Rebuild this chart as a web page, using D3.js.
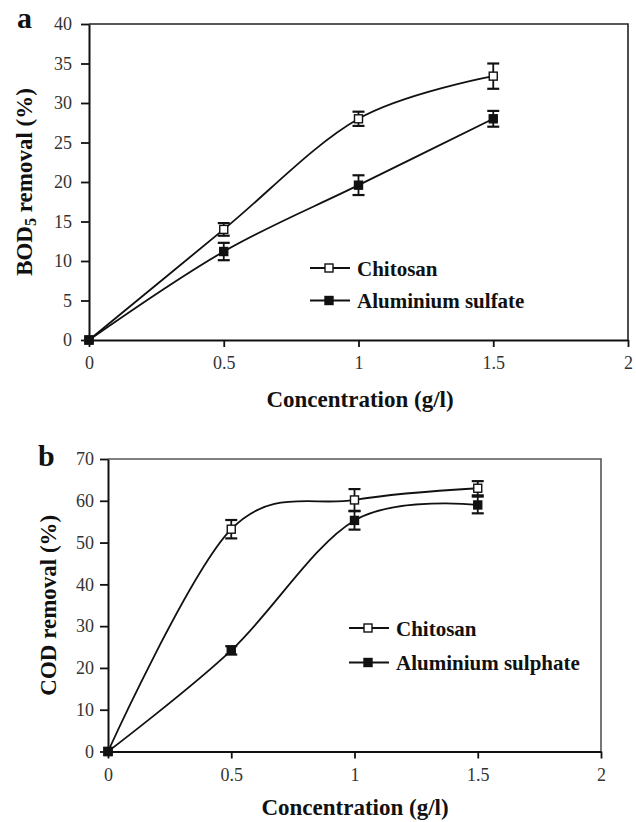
<!DOCTYPE html>
<html>
<head>
<meta charset="utf-8">
<script src="https://cdn.jsdelivr.net/npm/d3@7"></script>
<style>
  body { margin: 0; background: #fff; }
</style>
</head>
<body>
<script>
// values
const conc = [0, 0.5, 1, 1.5];
const xTicks = [0, 0.5, 1, 1.5, 2];

const bodChitosan = [0, 14, 28, 33.4];
const bodChitosanErr = [0, 0.8, 0.9, 1.6];
const bodAlum = [0, 11.2, 19.6, 28];
const bodAlumErr = [0, 1.1, 1.25, 1.0];
const bodTicks = [0, 5, 10, 15, 20, 25, 30, 35, 40];

const codChitosan = [0, 53.2, 60.2, 63];
const codChitosanErr = [0, 2.2, 2.6, 1.7];
const codAlum = [0, 24.2, 55.3, 59];
const codAlumErr = [0, 1.0, 2.2, 2.0];
const codTicks = [0, 10, 20, 30, 40, 50, 60, 70];

const serif = "'Liberation Serif', 'DejaVu Serif', serif";

let svg = d3.select('body').append('svg')
    .attr('width', 636)
    .attr('height', 822)
    .attr('font-family', serif);

function drawPanel(p) {
    let x = d3.scaleLinear().domain([0, 2]).range([p.left, p.right]);
    let y = d3.scaleLinear().domain([0, p.yMax]).range([p.bottom, p.top]);
    let g = svg.append('g');

    // frame (top + right)
    g.append('path')
        .attr('d', `M${p.left},${p.top}H${p.right}V${p.bottom}`)
        .attr('fill', 'none')
        .attr('stroke', p.frameColor)
        .attr('stroke-width', 1.6);

    let xAxis = g.append('g')
        .attr('transform', `translate(0,${p.bottom})`)
        .call(d3.axisBottom(x).tickValues(xTicks).tickSize(7).tickSizeOuter(0).tickPadding(p.xPad)
            .tickFormat(d => d));
    let yAxis = g.append('g')
        .attr('transform', `translate(${p.left},0)`)
        .call(d3.axisLeft(y).tickValues(p.yTicks).tickSize(8).tickSizeOuter(0).tickPadding(p.yPad));
    [xAxis, yAxis].forEach(a => {
        a.attr('font-family', serif).attr('font-size', 18);
        a.select('.domain').attr('stroke', '#111').attr('stroke-width', 2);
        a.selectAll('.tick line').attr('stroke', '#111').attr('stroke-width', 1.8);
        a.selectAll('.tick text').attr('fill', '#333');
    });

    let line = d3.line()
        .x((d, i) => x(conc[i]))
        .y(d => y(d))
        .curve(d3.curveCardinal.tension(0));

    p.series.forEach(s => {
        g.append('path')
            .datum(s.values)
            .attr('d', line)
            .attr('fill', 'none')
            .attr('stroke', '#111')
            .attr('stroke-width', 1.8);
    });

    // error bars
    p.series.forEach(s => {
        let eb = g.append('g').selectAll('g')
            .data(s.values.map((v, i) => ({ c: conc[i], v: v, e: s.err[i] })).filter(d => d.e > 0))
            .join('g');
        eb.append('line')
            .attr('x1', d => x(d.c)).attr('x2', d => x(d.c))
            .attr('y1', d => y(d.v + d.e)).attr('y2', d => y(d.v - d.e))
            .attr('stroke', '#111').attr('stroke-width', 1.8);
        [1, -1].forEach(sg => {
            eb.append('line')
                .attr('x1', d => x(d.c) - 6).attr('x2', d => x(d.c) + 6)
                .attr('y1', d => y(d.v + sg * d.e)).attr('y2', d => y(d.v + sg * d.e))
                .attr('stroke', '#111').attr('stroke-width', 2.2);
        });
    });

    // markers
    p.series.forEach(s => {
        g.append('g').selectAll('rect')
            .data(s.values)
            .join('rect')
            .attr('x', (d, i) => x(conc[i]) - 4)
            .attr('y', d => y(d) - 4)
            .attr('width', 8).attr('height', 8)
            .attr('fill', s.filled ? '#111' : '#fff')
            .attr('stroke', '#111').attr('stroke-width', 1.4);
    });

    // legend
    p.series.forEach((s, i) => {
        let ly = p.legendY[i];
        g.append('line')
            .attr('x1', p.legendX).attr('x2', p.legendX + 40)
            .attr('y1', ly).attr('y2', ly)
            .attr('stroke', '#111').attr('stroke-width', 1.8);
        g.append('rect')
            .attr('x', p.legendX + 15).attr('y', ly - 4)
            .attr('width', 8).attr('height', 8)
            .attr('fill', s.filled ? '#111' : '#fff')
            .attr('stroke', '#111').attr('stroke-width', 1.4);
        g.append('text')
            .attr('x', p.legendX + 47).attr('y', ly + 7.5)
            .attr('font-size', 21).attr('font-weight', 'bold').attr('fill', '#111')
            .text(s.name);
    });

    // x title
    g.append('text')
        .attr('x', p.xTitleCx).attr('y', p.xTitleY)
        .attr('text-anchor', 'middle')
        .attr('font-size', 23).attr('font-weight', 'bold').attr('fill', '#111')
        .text('Concentration (g/l)');

    // y title
    let yt = g.append('text')
        .attr('transform', `translate(${p.yTitleX},${(p.top + p.bottom) / 2}) rotate(-90)`)
        .attr('text-anchor', 'middle')
        .attr('font-size', 23).attr('font-weight', 'bold').attr('fill', '#111');
    p.yTitle(yt);

    g.append('text')
        .attr('x', p.letterX).attr('y', p.letterY)
        .attr('font-size', 30).attr('font-weight', 'bold').attr('fill', '#111')
        .text(p.letter);
}

drawPanel({
    left: 89, right: 628, top: 24, bottom: 340, yMax: 40, yTicks: bodTicks,
    frameColor: '#222', xPad: 9, yPad: 9,
    series: [
        { name: 'Chitosan', values: bodChitosan, err: bodChitosanErr, filled: false },
        { name: 'Aluminium sulfate', values: bodAlum, err: bodAlumErr, filled: true }
    ],
    legendX: 310, legendY: [268, 300.5],
    xTitleCx: 360, xTitleY: 406.5, yTitleX: 32,
    yTitle: t => {
        t.append('tspan').text('BOD');
        t.append('tspan').text('5').attr('font-size', 16).attr('dy', 4);
        t.append('tspan').text(' removal (%)').attr('dy', -4);
    },
    letter: 'a', letterX: 17, letterY: 28
});

drawPanel({
    left: 108, right: 601, top: 459, bottom: 751.5, yMax: 70, yTicks: codTicks,
    frameColor: '#555', xPad: 9.5, yPad: 6,
    series: [
        { name: 'Chitosan', values: codChitosan, err: codChitosanErr, filled: false },
        { name: 'Aluminium sulphate', values: codAlum, err: codAlumErr, filled: true }
    ],
    legendX: 349, legendY: [628, 662.5],
    xTitleCx: 355, xTitleY: 815, yTitleX: 56,
    yTitle: t => t.text('COD removal (%)'),
    letter: 'b', letterX: 38, letterY: 466
});
</script>
</body>
</html>
